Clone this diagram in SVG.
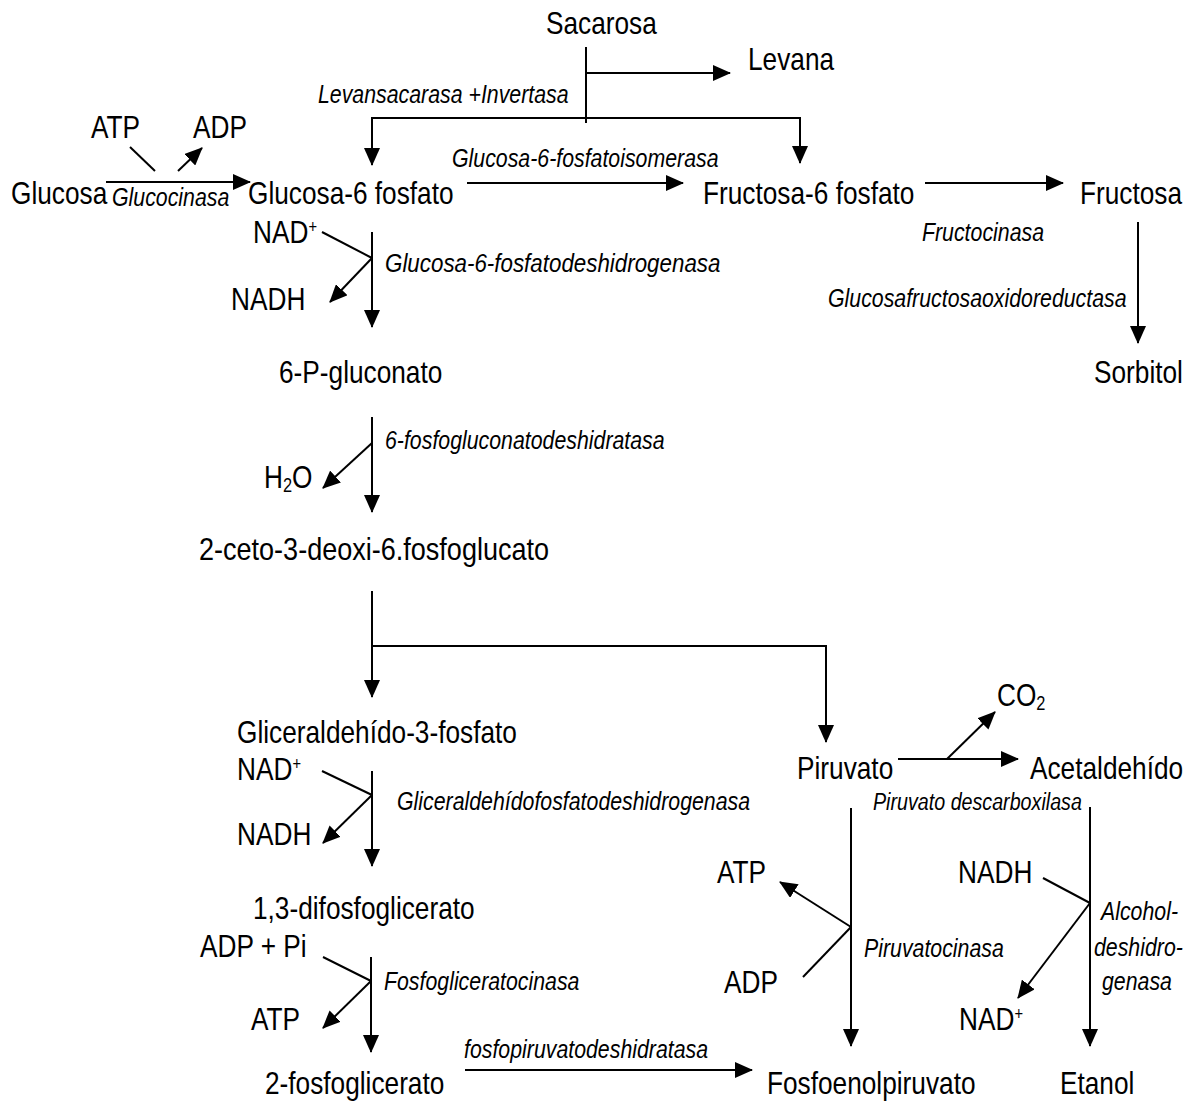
<svg xmlns="http://www.w3.org/2000/svg" width="1190" height="1103" viewBox="0 0 1190 1103">
<style>
.t{font-family:"Liberation Sans",Arial,sans-serif;font-size:32px;fill:#000}
.e{font-family:"Liberation Sans",Arial,sans-serif;font-size:26px;font-style:italic;fill:#000}
.sup{font-size:18px}
.sub{font-size:20px}
.c line,.c polyline{stroke:#000;stroke-width:2;fill:none}
</style>
<defs>
<marker id="ah" markerUnits="userSpaceOnUse" markerWidth="18" markerHeight="16" refX="17" refY="8" orient="auto">
<path d="M0,0 L18,8 L0,16 z" fill="#000"/>
</marker>
</defs>
<rect width="1190" height="1103" fill="#fff"/>
<g id="connectors" class="c">
<line x1="586" y1="47" x2="586" y2="123"/>
<line x1="586" y1="73" x2="730" y2="73" marker-end="url(#ah)"/>
<polyline points="372,150 372,118 800,118 800,150"/>
<line x1="372" y1="118" x2="372" y2="165" marker-end="url(#ah)"/>
<line x1="800" y1="118" x2="800" y2="163" marker-end="url(#ah)"/>
<line x1="130" y1="147" x2="155" y2="171"/>
<line x1="178" y1="171" x2="202" y2="148" marker-end="url(#ah)"/>
<line x1="106" y1="182" x2="250" y2="182" marker-end="url(#ah)"/>
<line x1="467" y1="183" x2="683" y2="183" marker-end="url(#ah)"/>
<line x1="925" y1="183" x2="1063" y2="183" marker-end="url(#ah)"/>
<line x1="1138" y1="222" x2="1138" y2="343" marker-end="url(#ah)"/>
<line x1="372" y1="232" x2="372" y2="327" marker-end="url(#ah)"/>
<line x1="322" y1="232" x2="372" y2="258"/>
<line x1="372" y1="258" x2="330" y2="302" marker-end="url(#ah)"/>
<line x1="372" y1="417" x2="372" y2="512" marker-end="url(#ah)"/>
<line x1="372" y1="443" x2="323" y2="488" marker-end="url(#ah)"/>
<line x1="372" y1="591" x2="372" y2="697" marker-end="url(#ah)"/>
<polyline points="372,646 826,646 826,720"/>
<line x1="826" y1="700" x2="826" y2="742" marker-end="url(#ah)"/>
<line x1="372" y1="771" x2="372" y2="866" marker-end="url(#ah)"/>
<line x1="322" y1="771" x2="372" y2="795"/>
<line x1="372" y1="795" x2="323" y2="843" marker-end="url(#ah)"/>
<line x1="371" y1="957" x2="371" y2="1052" marker-end="url(#ah)"/>
<line x1="323" y1="957" x2="371" y2="981"/>
<line x1="371" y1="981" x2="323" y2="1028" marker-end="url(#ah)"/>
<line x1="465" y1="1070" x2="752" y2="1070" marker-end="url(#ah)"/>
<line x1="851" y1="808" x2="851" y2="1046" marker-end="url(#ah)"/>
<line x1="851" y1="927" x2="780" y2="882" marker-end="url(#ah)"/>
<line x1="803" y1="977" x2="851" y2="927"/>
<line x1="898" y1="759" x2="1018" y2="759" marker-end="url(#ah)"/>
<line x1="947" y1="759" x2="995" y2="712" marker-end="url(#ah)"/>
<line x1="1090" y1="807" x2="1090" y2="1046" marker-end="url(#ah)"/>
<line x1="1043" y1="878" x2="1090" y2="903"/>
<line x1="1090" y1="903" x2="1018" y2="998" marker-end="url(#ah)"/>
</g>
<g id="sacarosa"><text class="t" transform="translate(546,34) scale(0.82,1)">Sacarosa</text></g>
<g id="levana"><text class="t" transform="translate(748,70) scale(0.82,1)">Levana</text></g>
<g id="atp1"><text class="t" transform="translate(91,138) scale(0.82,1)">ATP</text></g>
<g id="adp1"><text class="t" transform="translate(193,138) scale(0.82,1)">ADP</text></g>
<g id="glucosa"><text class="t" transform="translate(11,204) scale(0.82,1)">Glucosa</text></g>
<g id="g6p"><text class="t" transform="translate(248,204) scale(0.82,1)">Glucosa-6 fosfato</text></g>
<g id="f6p"><text class="t" transform="translate(703,204) scale(0.82,1)">Fructosa-6 fosfato</text></g>
<g id="fructosa"><text class="t" transform="translate(1080,204) scale(0.82,1)">Fructosa</text></g>
<g id="nad1"><text class="t" transform="translate(253,243) scale(0.82,1)">NAD<tspan class="sup" dy="-10">+</tspan></text></g>
<g id="nadh1"><text class="t" transform="translate(231,310) scale(0.82,1)">NADH</text></g>
<g id="pg6"><text class="t" transform="translate(279,383) scale(0.82,1)">6-P-gluconato</text></g>
<g id="h2o"><text class="t" transform="translate(264,488) scale(0.82,1)">H<tspan class="sub" dy="4">2</tspan><tspan dy="-4">O</tspan></text></g>
<g id="kdpg"><text class="t" transform="translate(199,560) scale(0.845,1)">2-ceto-3-deoxi-6.fosfoglucato</text></g>
<g id="sorbitol"><text class="t" transform="translate(1094,383) scale(0.82,1)">Sorbitol</text></g>
<g id="g3p"><text class="t" transform="translate(237,743) scale(0.82,1)">Gliceraldehído-3-fosfato</text></g>
<g id="nad2"><text class="t" transform="translate(237,780) scale(0.82,1)">NAD<tspan class="sup" dy="-10">+</tspan></text></g>
<g id="nadh2"><text class="t" transform="translate(237,845) scale(0.82,1)">NADH</text></g>
<g id="bpg"><text class="t" transform="translate(253,919) scale(0.82,1)">1,3-difosfoglicerato</text></g>
<g id="adppi"><text class="t" transform="translate(200,957) scale(0.82,1)">ADP + Pi</text></g>
<g id="atp3"><text class="t" transform="translate(251,1030) scale(0.82,1)">ATP</text></g>
<g id="pg2"><text class="t" transform="translate(265,1094) scale(0.82,1)">2-fosfoglicerato</text></g>
<g id="pep"><text class="t" transform="translate(767,1094) scale(0.82,1)">Fosfoenolpiruvato</text></g>
<g id="etanol"><text class="t" transform="translate(1060,1094) scale(0.82,1)">Etanol</text></g>
<g id="piruvato"><text class="t" transform="translate(797,779) scale(0.82,1)">Piruvato</text></g>
<g id="acetaldehido"><text class="t" transform="translate(1030,779) scale(0.82,1)">Acetaldehído</text></g>
<g id="co2"><text class="t" transform="translate(997,706) scale(0.82,1)">CO<tspan class="sub" dy="4">2</tspan></text></g>
<g id="atp4"><text class="t" transform="translate(717,883) scale(0.82,1)">ATP</text></g>
<g id="adp4"><text class="t" transform="translate(724,993) scale(0.82,1)">ADP</text></g>
<g id="nadh3"><text class="t" transform="translate(958,883) scale(0.82,1)">NADH</text></g>
<g id="nad3"><text class="t" transform="translate(959,1030) scale(0.82,1)">NAD<tspan class="sup" dy="-10">+</tspan></text></g>
<g id="enzymes">
<text class="e" transform="translate(318,103) scale(0.82,1)">Levansacarasa +Invertasa</text>
<text class="e" transform="translate(112,206) scale(0.82,1)">Glucocinasa</text>
<text class="e" transform="translate(452,167) scale(0.82,1)">Glucosa-6-fosfatoisomerasa</text>
<text class="e" transform="translate(922,241) scale(0.82,1)">Fructocinasa</text>
<text class="e" transform="translate(828,307) scale(0.82,1)">Glucosafructosaoxidoreductasa</text>
<text class="e" transform="translate(385,272) scale(0.86,1)">Glucosa-6-fosfatodeshidrogenasa</text>
<text class="e" transform="translate(385,449) scale(0.82,1)">6-fosfogluconatodeshidratasa</text>
<text class="e" transform="translate(397,810) scale(0.82,1)">Gliceraldehídofosfatodeshidrogenasa</text>
<text class="e" transform="translate(873,810) scale(0.82,1)" style="font-size:24px">Piruvato descarboxilasa</text>
<text class="e" transform="translate(384,990) scale(0.82,1)">Fosfogliceratocinasa</text>
<text class="e" transform="translate(464,1058) scale(0.82,1)">fosfopiruvatodeshidratasa</text>
<text class="e" transform="translate(864,957) scale(0.82,1)">Piruvatocinasa</text>
<text class="e" transform="translate(1101,920) scale(0.82,1)">Alcohol-</text>
<text class="e" transform="translate(1094,956) scale(0.82,1)">deshidro-</text>
<text class="e" transform="translate(1102,990) scale(0.82,1)">genasa</text>
</g>
</svg>
